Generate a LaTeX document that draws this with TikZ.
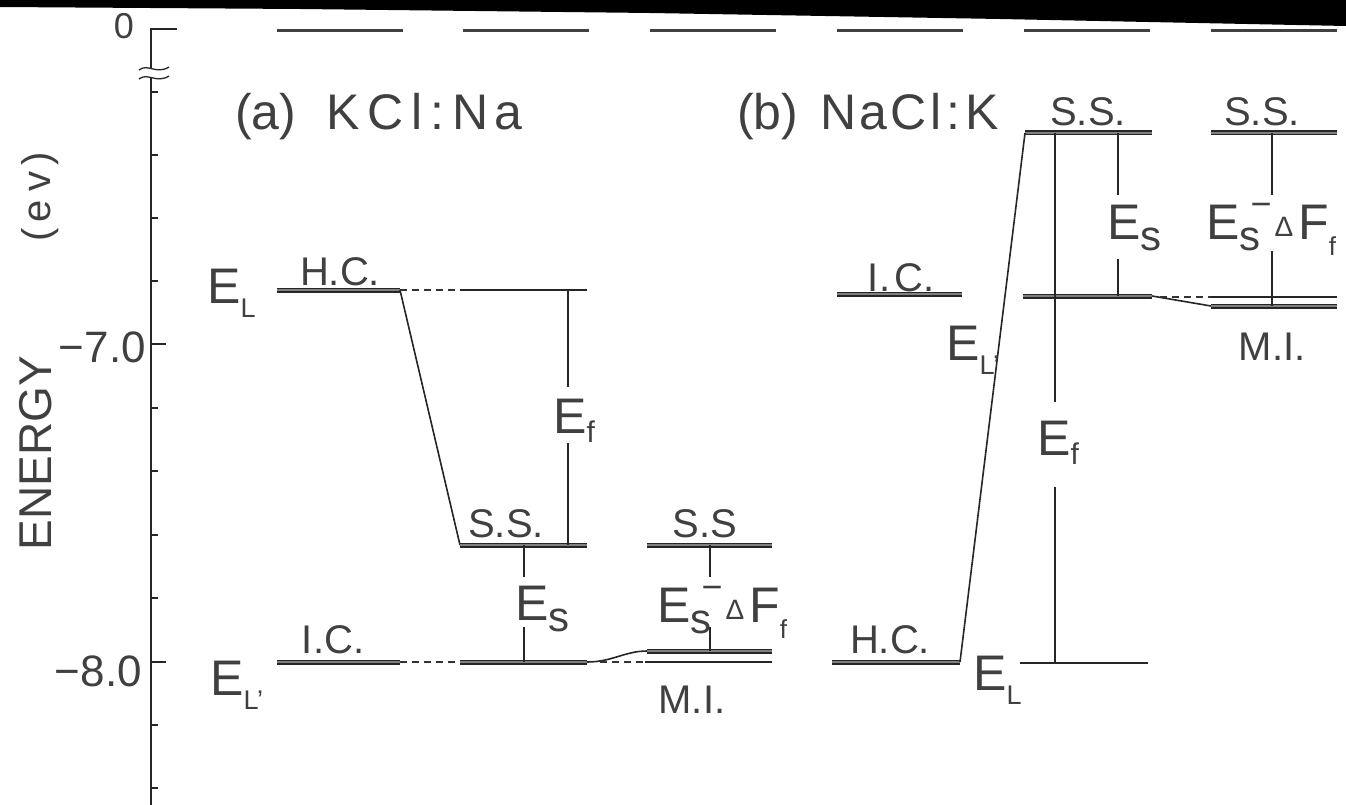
\documentclass[tikz,border=0pt]{standalone}
\usepackage{fontspec}
\setmainfont{Liberation Sans}
\newcommand{\sbL}[1]{\raisebox{-14pt}{\fontsize{27}{27}\selectfont #1}}
\newcommand{\sbS}{\raisebox{-11pt}{\fontsize{42}{42}\selectfont s}}
\newcommand{\sbF}{\raisebox{-9pt}{\fontsize{30}{30}\selectfont f}}
\newcommand{\EsDF}{E\sbS\hspace{-10pt}\raisebox{23pt}{\fontsize{36}{36}\selectfont −}\hspace{3pt}\raisebox{3pt}{\fontsize{28}{28}\selectfont Δ}\hspace{5pt}F\raisebox{-16pt}{\fontsize{26}{26}\selectfont f}}
\begin{document}
\begin{tikzpicture}[x=1pt,y=-1pt,
  lev/.style={draw=black!85, line width=1.4pt, double=black!50, double distance=2.2pt},
  thinl/.style={draw=black!85, line width=1.6pt},
  vline/.style={draw=black!85, line width=1.3pt},
  dsh/.style={draw=black!80, line width=1.3pt, dash pattern=on 7pt off 5pt},
  topd/.style={draw=black!75, line width=3pt},
  lbl/.style={inner sep=0pt, text=black!75, font=\fontsize{40}{40}\selectfont, anchor=base},
  elbl/.style={inner sep=0pt, text=black!75, font=\fontsize{50}{50}\selectfont, anchor=base west},
]
\useasboundingbox (0,0) rectangle (1346,805);
\fill[white] (0,0) rectangle (1346,805);
\fill[black] (0,0) -- (1346,0) -- (1346,26) -- (1000,19) -- (650,13) -- (300,9) -- (0,7) -- cycle;

% ---------- axis ----------
\coordinate (ax0) at (151,29);
\coordinate (axb) at (151,805);
\coordinate (axt) at (177,29);
\draw[vline] (axt) -- (ax0) -- (axb);
\foreach \y in {92,155,218,281,408,471,535,598,725,788}
  \draw[vline] (151,\y) -- (158,\y);
\draw[vline] (151,344) -- (166,344);
\draw[vline] (151,662) -- (166,662);
% axis break
\fill[white] (143,69) rectangle (160,77);
\draw[vline] (139,70) .. controls (148,63) and (156,75) .. (169,67);
\draw[vline] (139,79) .. controls (148,72) and (156,84) .. (169,76);

\node[lbl, font=\fontsize{36}{36}\selectfont] (zero) at (124,39) {0};
\node[lbl, anchor=base east, font=\fontsize{44}{44}\selectfont] (m7) at (146,362) {−7.0};
\node[lbl, anchor=base east, font=\fontsize{44}{44}\selectfont] (m8) at (142,686) {−8.0};
\node[inner sep=0pt, text=black!75, font=\fontsize{46}{46}\selectfont, rotate=90] (energy) at (36,453) {ENERGY};
\node[inner sep=0pt, text=black!75, font=\fontsize{40}{40}\selectfont, rotate=90] (ev) at (40,197) {(\hspace{6pt}e\hspace{8pt}v\hspace{6pt})};

% ---------- zero-energy dashes ----------
\foreach \x in {277,463,650,837,1024,1211}
  \draw[topd] (\x,31) -- (\x+126,31);

% ---------- titles ----------
\node[lbl, anchor=base west, font=\fontsize{50}{50}\selectfont] (ta) at (235,130)
  {(a)\hspace{30pt}K\hspace{8pt}C\hspace{8pt}l\hspace{8pt}:\hspace{8pt}N\hspace{6pt}a};
\node[lbl, anchor=base west, font=\fontsize{50}{50}\selectfont] (tb) at (737,130)
  {(b)\hspace{22pt}N\hspace{3pt}a\hspace{3pt}C\hspace{4pt}l\hspace{5pt}:\hspace{5pt}K};

% ================= panel (a) =================
\coordinate (a1L) at (277,290); \coordinate (a1R) at (400,290);
\coordinate (a2tL) at (460,290); \coordinate (a2tR) at (587,290);
\coordinate (a2L) at (460,545); \coordinate (a2R) at (587,545);
\coordinate (a3L) at (647,545); \coordinate (a3R) at (772,545);
\coordinate (a1bL) at (277,662); \coordinate (a1bR) at (400,662);
\coordinate (a2bL) at (460,662); \coordinate (a2bR) at (587,662);
\coordinate (a3bL) at (647,651); \coordinate (a3bR) at (772,651);
\coordinate (a3cL) at (645,662); \coordinate (a3cR) at (772,662);
\coordinate (a3dL) at (600,662);

\draw[lev] (a1L) -- (a1R);
\draw[dsh] (a1R) -- (a2tL);
\draw[thinl] (a2tL) -- (a2tR);
\draw[thinl] (a1R) -- (a2L);
\draw[lev] (a2L) -- (a2R);
\draw[lev] (a3L) -- (a3R);
\draw[lev] (a1bL) -- (a1bR);
\draw[dsh] (a1bR) -- (a2bL);
\draw[lev] (a2bL) -- (a2bR);
\draw[thinl] (a2bR) .. controls (612,662) and (625,651) .. (a3bL);
\draw[lev] (a3bL) -- (a3bR);
\draw[dsh] (a3dL) -- (a3cL);
\draw[thinl] (a3cL) -- (a3cR);

% verticals (a)
\draw[vline] (568,290) -- (568,387);
\draw[vline] (568,443) -- (568,545);
\draw[vline] (524,545) -- (524,577);
\draw[vline] (524,627) -- (524,662);
\draw[vline] (710,545) -- (710,577);
\draw[vline] (710,627) -- (710,651);

% labels (a)
\node[lbl] (hca) at (340,285) {H.C.};
\node[elbl] (ELa) at (207,303) {E\sbL{L}};
\node[lbl] (ssa) at (506,537) {S.S.};
\node[lbl] (ssa3) at (705,537) {S.S};
\node[elbl] (Efa) at (553,433) {E\sbF};
\node[elbl] (Esa) at (515,620) {E\sbS};
\node[elbl] (EsDa) at (657,622) {\EsDF};
\node[lbl] (ica) at (333,653) {I.C.};
\node[elbl] (ELpa) at (210,695) {E\sbL{L’}};
\node[lbl] (mia) at (692,713) {M.I.};

% ================= panel (b) =================
\coordinate (b1L) at (837,294); \coordinate (b1R) at (962,294);
\coordinate (b2L) at (1023,296); \coordinate (b2R) at (1152,296);
\coordinate (b3L) at (1211,306); \coordinate (b3R) at (1337,306);
\coordinate (b3cL) at (1211,297); \coordinate (b3cR) at (1337,297);
\coordinate (b3dL) at (1160,297);
\coordinate (b2sL) at (1025,133); \coordinate (b2sR) at (1152,133);
\coordinate (b3sL) at (1211,133); \coordinate (b3sR) at (1337,133);
\coordinate (b1bL) at (832,662); \coordinate (b1bR) at (960,662);
\coordinate (b2bL) at (1020,663); \coordinate (b2bR) at (1148,663);

\draw[lev] (b1L) -- (b1R);
\draw[lev] (b2L) -- (b2R);
\draw[thinl] (b2R) -- (b3L);
\draw[lev] (b3L) -- (b3R);
\draw[dsh] (b3dL) -- (b3cL);
\draw[thinl] (b3cL) -- (b3cR);
\draw[lev] (b2sL) -- (b2sR);
\draw[lev] (b3sL) -- (b3sR);
\draw[lev] (b1bL) -- (b1bR);
\draw[thinl] (b2bL) -- (b2bR);
\draw[thinl] (b1bR) -- (b2sL);

% verticals (b)
\draw[vline] (1055,133) -- (1055,402);
\draw[vline] (1055,487) -- (1055,663);
\draw[vline] (1118,133) -- (1118,195);
\draw[vline] (1118,259) -- (1118,296);
\draw[vline] (1272,133) -- (1272,195);
\draw[vline] (1272,251) -- (1272,306);

% labels (b)
\node[lbl] (ssb2) at (1088,126) {S.S.};
\node[lbl] (ssb3) at (1262,126) {S.S.};
\node[lbl] (icb) at (901,291) {I.\hspace{4pt}C.};
\node[elbl] (ELpb) at (946,360) {E\sbL{L’}};
\node[elbl] (Esb) at (1107,240) {E\sbS};
\node[elbl] (EsDb) at (1206,240) {\EsDF};
\node[lbl] (mib) at (1272,360) {M.I.};
\node[elbl] (Efb) at (1037,455) {E\sbF};
\node[lbl] (hcb) at (890,653) {H.C.};
\node[elbl] (ELb) at (973,690) {E\sbL{L}};
\end{tikzpicture}
\end{document}
